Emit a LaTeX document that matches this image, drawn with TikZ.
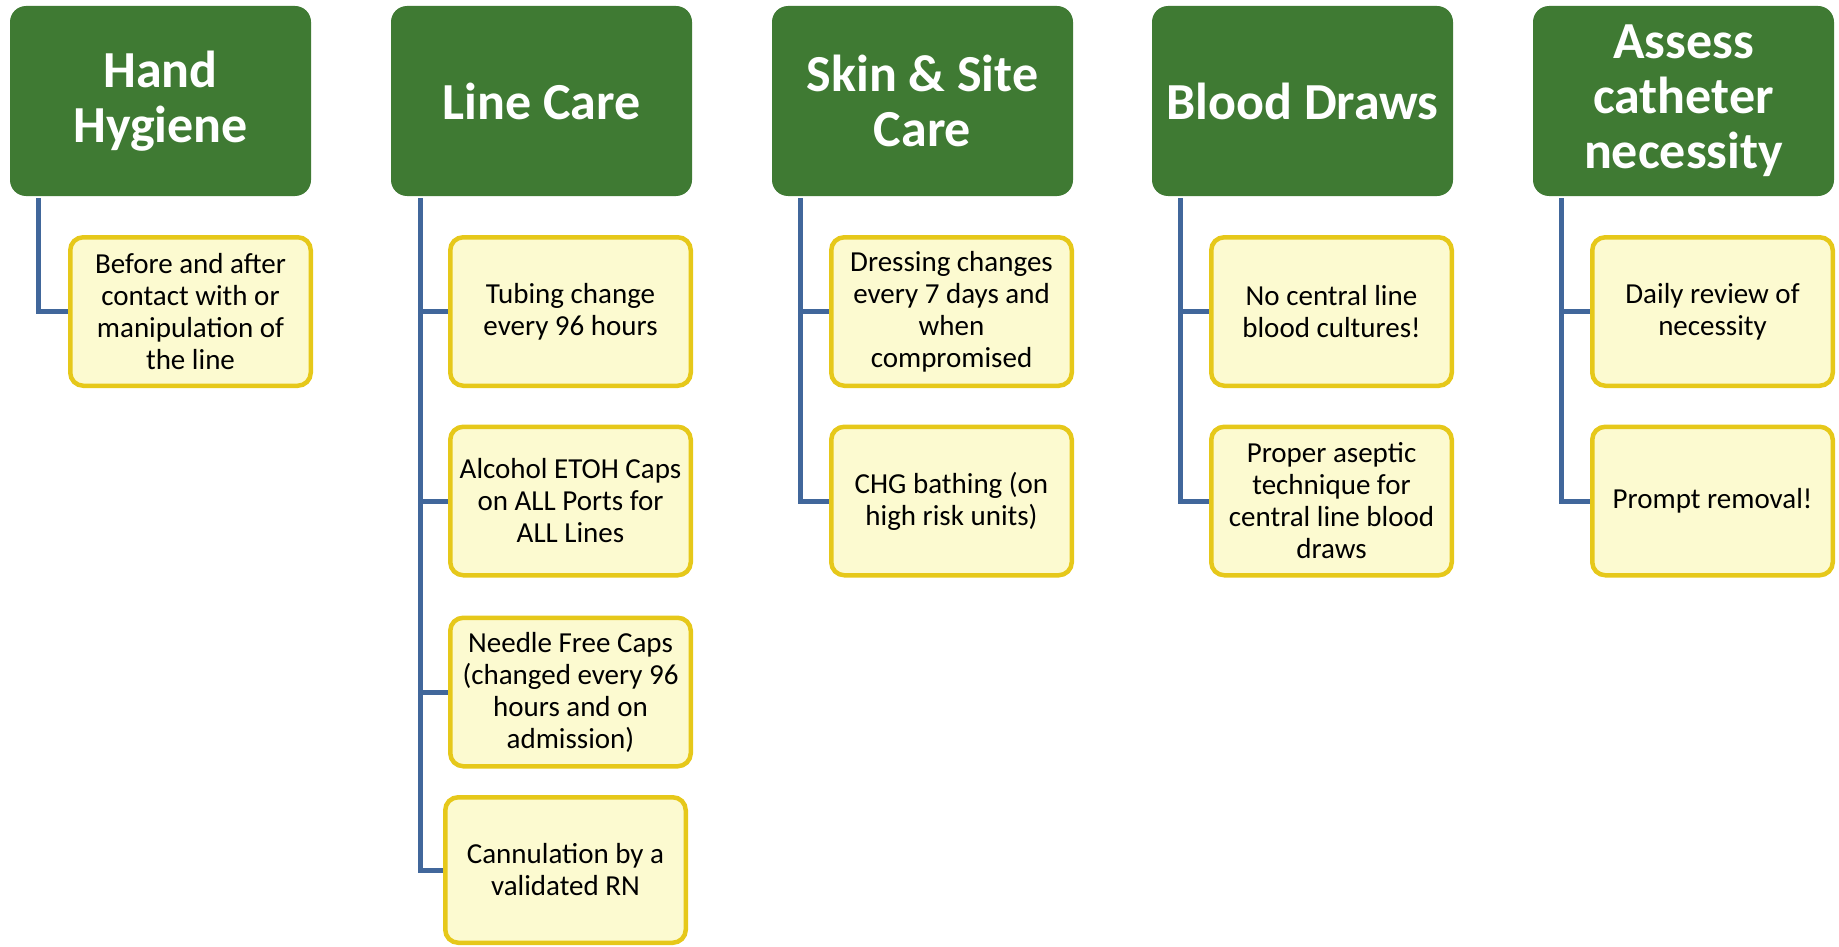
\documentclass[tikz,border=0pt]{standalone}
\usepackage{fontspec}
\setmainfont{Carlito}
\usetikzlibrary{backgrounds}
\definecolor{hdrgreen}{HTML}{3F7A33}
\definecolor{itemfill}{HTML}{FCFAD0}
\definecolor{itemborder}{HTML}{E6C81A}
\definecolor{connblue}{HTML}{41679B}
\begin{document}
\begin{tikzpicture}[x=1pt,y=-1pt,
  hdr/.style={fill=hdrgreen, rounded corners=16pt, minimum width=301pt, minimum height=190pt, inner sep=0pt, text=white, align=center, font=\fontsize{52}{55}\selectfont\bfseries},
  item/.style={fill=itemfill, draw=itemborder, line width=4.5pt, rounded corners=13pt, minimum width=240.5pt, minimum height=148.5pt, inner sep=0pt, align=center, font=\fontsize{29}{32}\selectfont},
  conn/.style={draw=connblue, line width=5pt}]
\useasboundingbox (0,0) rectangle (1839,947);
% headers
\node[hdr] (h1) at (160.5,101) {Hand\\Hygiene};
\node[hdr] (h2) at (541.5,101) {Line Care};
\node[hdr] (h3) at (922.5,101) {Skin \& Site\\Care};
\node[hdr] (h4) at (1302.5,101) {Blood Draws};
\node[hdr] (h5) at (1683.5,101) {Assess\\catheter\\necessity};
% items
\node[item] (a1) at (190.5,311.5) {Before and after\\contact with or\\manipulation of\\the line};
\node[item] (b1) at (570.5,311.5) {Tubing change\\every 96 hours};
\node[item] (b2) at (570.5,501) {Alcohol ETOH Caps\\on ALL Ports for\\ALL Lines};
\node[item] (b3) at (570.5,692) {Needle Free Caps\\(changed every 96\\hours and on\\admission)};
\node[item, minimum height=145.5pt] (b4) at (565.5,870) {Cannulation by a\\validated RN};
\node[item] (c1) at (951.5,311.5) {Dressing changes\\every 7 days and\\when\\compromised};
\node[item] (c2) at (951.5,501) {CHG bathing (on\\high risk units)};
\node[item] (d1) at (1331.5,311.5) {No central line\\blood cultures!};
\node[item] (d2) at (1331.5,501) {Proper aseptic\\technique for\\central line blood\\draws};
\node[item] (e1) at (1712.5,311.5) {Daily review of\\necessity};
\node[item] (e2) at (1712.5,501) {Prompt removal!};
% connectors
\begin{scope}[on background layer]
\draw[conn] ([xshift=-122.5pt,yshift=-2pt]h1.south) |- (a1.west);
\draw[conn] ([xshift=-121.5pt,yshift=-2pt]h2.south) |- (b1.west);
\draw[conn] ([xshift=-121.5pt,yshift=-2pt]h2.south) |- (b2.west);
\draw[conn] ([xshift=-121.5pt,yshift=-2pt]h2.south) |- (b3.west);
\draw[conn] ([xshift=-121.5pt,yshift=-2pt]h2.south) |- (b4.west);
\draw[conn] ([xshift=-122.5pt,yshift=-2pt]h3.south) |- (c1.west);
\draw[conn] ([xshift=-122.5pt,yshift=-2pt]h3.south) |- (c2.west);
\draw[conn] ([xshift=-122.5pt,yshift=-2pt]h4.south) |- (d1.west);
\draw[conn] ([xshift=-122.5pt,yshift=-2pt]h4.south) |- (d2.west);
\draw[conn] ([xshift=-122.5pt,yshift=-2pt]h5.south) |- (e1.west);
\draw[conn] ([xshift=-122.5pt,yshift=-2pt]h5.south) |- (e2.west);
\end{scope}
\end{tikzpicture}
\end{document}
